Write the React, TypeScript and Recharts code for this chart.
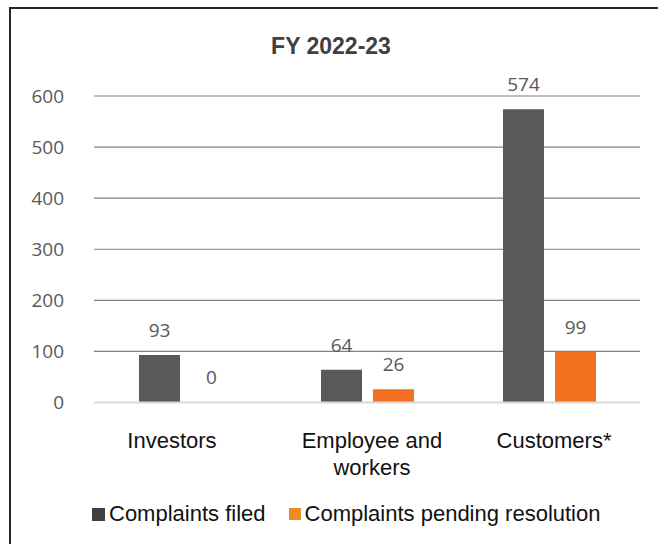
import React from "react";
import { BarChart, Bar, XAxis, YAxis, CartesianGrid, LabelList } from "recharts";

const categories = ["Investors", "Employee and workers", "Customers*"];
const complaintsFiled = [93, 64, 574];
const complaintsPending = [0, 26, 99];
const yTicks = [0, 100, 200, 300, 400, 500, 600];
const seriesNames = ["Complaints filed", "Complaints pending resolution"];
const title = "FY 2022-23";

const data = categories.map((c, i) => ({
  name: c,
  filed: complaintsFiled[i],
  pending: complaintsPending[i],
}));

const GRAY = "#58595b";
const ORANGE = "#f37021";
const ARIAL = "'Liberation Sans', Arial, sans-serif";
const OPEN = "'Open Sans', 'Noto Sans', sans-serif";
// small horizontal nudges of the category labels, as in the original layout
const TICK_NUDGE = [-13, 5, 5];

let measureCtx: CanvasRenderingContext2D | null = null;
function measure(text: string, font: string): number {
  if (!measureCtx) {
    const c = document.createElement("canvas");
    measureCtx = c.getContext("2d");
  }
  if (!measureCtx) return text.length * 11;
  measureCtx.font = font;
  return measureCtx.measureText(text).width;
}

function wrap(text: string, maxWidth: number, font: string): string[] {
  const words = text.split(" ");
  const lines: string[] = [];
  let cur = "";
  for (const w of words) {
    const next = cur ? cur + " " + w : w;
    if (cur && measure(next, font) > maxWidth) {
      lines.push(cur);
      cur = w;
    } else {
      cur = next;
    }
  }
  if (cur) lines.push(cur);
  return lines;
}

const CategoryTick = (props: any) => {
  const { x, y, payload, index } = props;
  const lines = wrap(String(payload.value), 165, "22px 'Liberation Sans'");
  const cx = x + (TICK_NUDGE[index] || 0);
  return (
    <text
      x={cx}
      y={y}
      textAnchor="middle"
      fontSize={22}
      fontFamily={ARIAL}
      fill="#111111"
    >
      {lines.map((l, i) => (
        <tspan key={i} x={cx} dy={i === 0 ? "0.71em" : 27}>
          {l}
        </tspan>
      ))}
    </text>
  );
};

export default function App() {
  return (
    <div
      style={{
        position: "absolute",
        left: 9,
        top: 7,
        width: 649,
        height: 537,
        borderTop: "2px solid #262626",
        borderLeft: "2px solid #262626",
        boxSizing: "border-box",
        overflow: "hidden",
        background: "#ffffff",
      }}
    >
      <div
        style={{
          position: "absolute",
          left: 0,
          top: 26,
          width: 640,
          textAlign: "center",
          fontFamily: ARIAL,
          fontWeight: "bold",
          fontSize: 23,
          lineHeight: "23px",
          color: "#404040",
        }}
      >
        {title}
      </div>
      <BarChart
        width={647}
        height={535}
        data={data}
        margin={{ top: 87, right: 18, left: 23, bottom: 111.5 }}
        barSize={41}
        barGap={11}
      >
        <CartesianGrid vertical={false} stroke="#808080" strokeWidth={1.2} />
        <XAxis
          dataKey="name"
          height={30}
          tickLine={false}
          tickSize={0}
          tickMargin={30}
          axisLine={{ stroke: "#d9d9d9", strokeWidth: 2 }}
          tick={<CategoryTick />}
          interval={0}
        />
        <YAxis
          width={60}
          domain={[0, 600]}
          ticks={yTicks}
          tickLine={false}
          tickSize={0}
          tickMargin={30}
          axisLine={false}
          tick={{ fill: "#595959", fontSize: 19, fontFamily: OPEN }}
        />
        <Bar dataKey="filed" name={seriesNames[0]} fill={GRAY} isAnimationActive={false}>
          <LabelList
            dataKey="filed"
            position="top"
            offset={18}
            fill="#595959"
            fontSize={19}
            fontFamily={OPEN}
          />
        </Bar>
        <Bar
          dataKey="pending"
          name={seriesNames[1]}
          fill={ORANGE}
          minPointSize={0.01}
          isAnimationActive={false}
        >
          <LabelList
            dataKey="pending"
            position="top"
            offset={18}
            fill="#595959"
            fontSize={19}
            fontFamily={OPEN}
          />
        </Bar>
      </BarChart>
      <div
        style={{
          position: "absolute",
          left: 81,
          top: 494,
          height: 22,
          display: "flex",
          alignItems: "center",
          fontFamily: ARIAL,
          fontSize: 22,
          lineHeight: "22px",
          color: "#111111",
          whiteSpace: "nowrap",
        }}
      >
        <span style={{ width: 13, height: 13, background: "#404040", marginRight: 4, display: "inline-block" }} />
        <span>{seriesNames[0]}</span>
        <span style={{ width: 12, height: 12, background: "#f08a24", marginLeft: 23, marginRight: 4, display: "inline-block" }} />
        <span>{seriesNames[1]}</span>
      </div>
    </div>
  );
}
